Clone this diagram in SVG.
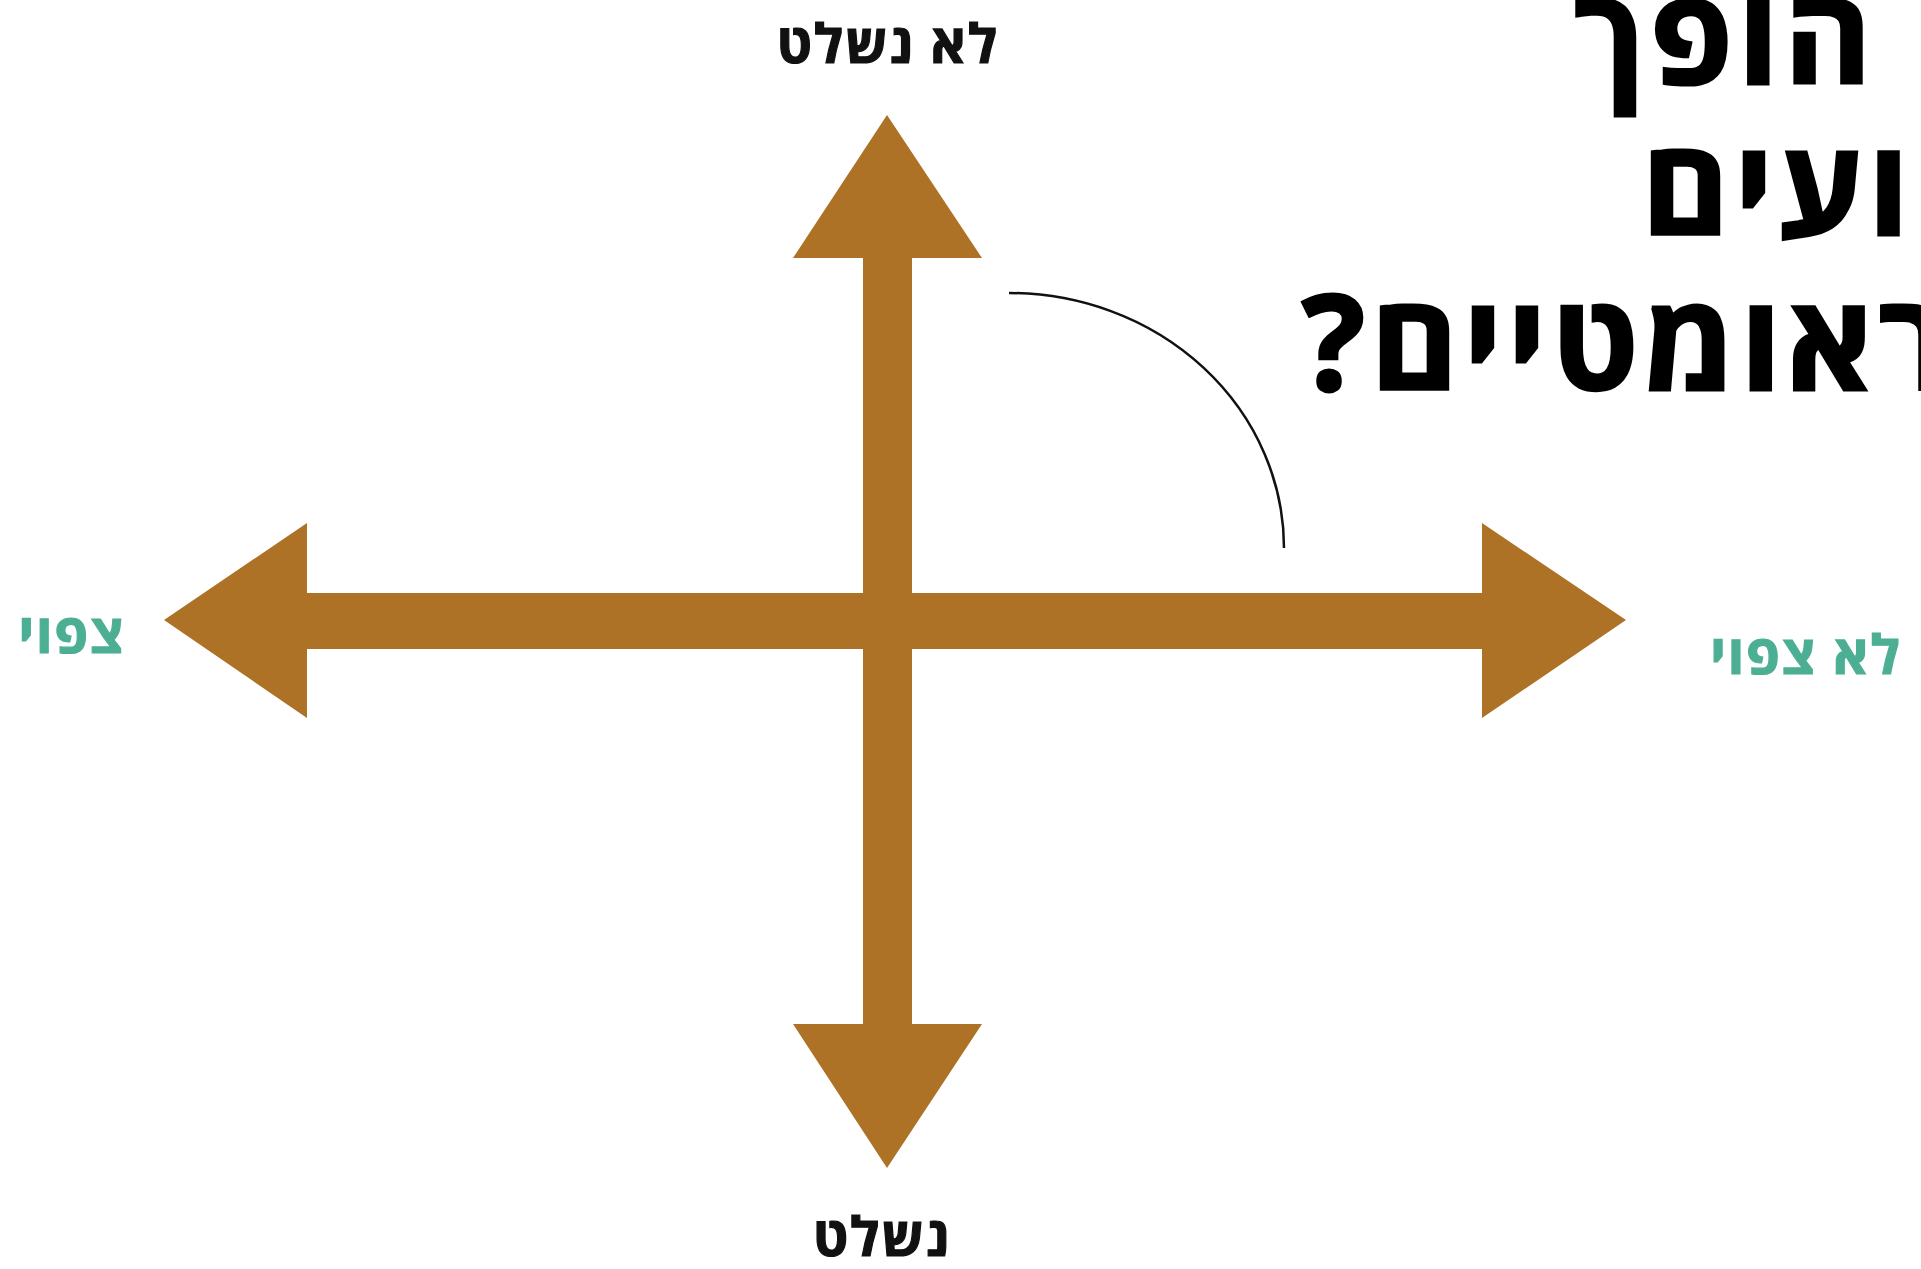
<svg xmlns="http://www.w3.org/2000/svg" width="1921" height="1269" viewBox="0 0 1921 1269">
<style>
.arrow{fill:#ae7226}
.title{font-family:"Open Sans","DejaVu Sans",sans-serif;font-weight:700;font-size:132px;letter-spacing:6px;fill:#000;stroke:#000;stroke-width:3px;stroke-linejoin:miter}
.lbl{font-family:"Open Sans","DejaVu Sans",sans-serif;font-weight:700;font-size:54px;letter-spacing:2px;stroke-width:1.2px}
.dark{fill:#111;stroke:#111}
.teal{fill:#4caf93;stroke:#4caf93}
</style>
<rect width="1921" height="1269" fill="#fff"/>
<g id="connectors">
<polygon id="axis-h" class="arrow" points="164,620 307,523 307,593 1482,593 1482,523 1626,620 1482,718 1482,649 307,649 307,718"/>
<polygon id="axis-v" class="arrow" points="887,115 982,258 912,258 912,1024 982,1024 887,1168 793,1024 863,1024 863,258 793,258"/>
<path id="arc" d="M1009,293 A275,255 0 0 1 1284,548" fill="none" stroke="#111" stroke-width="2.5"/>
</g>
<g id="title">
<text class="title" direction="rtl" text-anchor="end" x="1574" y="84">הופך</text>
<text class="title" direction="rtl" text-anchor="end" x="1642" y="235">ועים</text>
<text class="title" direction="rtl" text-anchor="end" x="1302" y="390">ראומטיים?</text>
</g>
<g id="label-top"><text class="lbl dark" direction="rtl" text-anchor="middle" x="888" y="63">לא נשלט</text></g>
<g id="label-bottom"><text class="lbl dark" direction="rtl" text-anchor="middle" x="882" y="1256">נשלט</text></g>
<g id="label-left"><text class="lbl teal" direction="rtl" text-anchor="middle" x="72" y="653">צפוי</text></g>
<g id="label-right"><text class="lbl teal" direction="rtl" text-anchor="middle" x="1806" y="674">לא צפוי</text></g>
</svg>
